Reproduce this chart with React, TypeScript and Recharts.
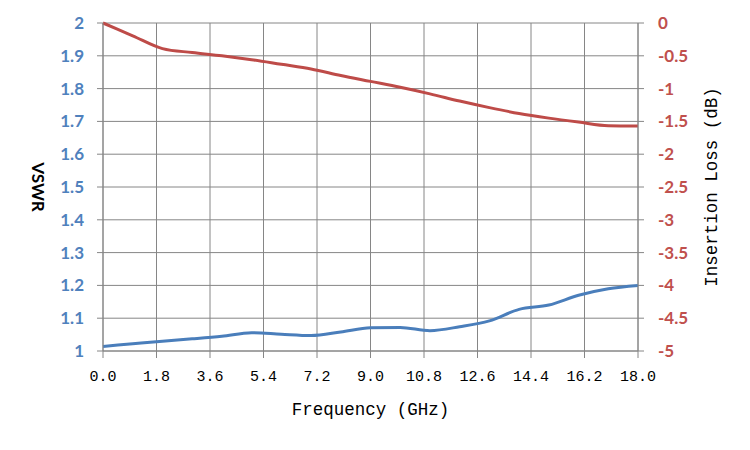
import React from 'react';

import { CartesianGrid, Label, Line, LineChart, XAxis, YAxis } from 'recharts';

const freq = [0, 1, 2, 3, 4, 5, 6, 7, 8, 9, 10, 11, 12, 13, 14, 15, 16, 17, 18];
const vswr = [1.014, 1.022, 1.03, 1.037, 1.045, 1.056, 1.051, 1.047, 1.058, 1.071, 1.072, 1.062, 1.074, 1.092, 1.127, 1.14, 1.17, 1.19, 1.2];
const loss = [0, -0.195, -0.39, -0.45, -0.5, -0.56, -0.63, -0.7, -0.8, -0.89, -0.98, -1.08, -1.19, -1.29, -1.38, -1.45, -1.51, -1.565, -1.57];

const freqTicks = [0, 1.8, 3.6, 5.4, 7.2, 9, 10.8, 12.6, 14.4, 16.2, 18];
const vswrTicks = [1, 1.1, 1.2, 1.3, 1.4, 1.5, 1.6, 1.7, 1.8, 1.9, 2];
const lossTicks = [-5, -4.5, -4, -3.5, -3, -2.5, -2, -1.5, -1, -0.5, 0];

const data = freq.map((f, i) => ({ freq: f, vswr: vswr[i], loss: loss[i] }));

const GRID = '#868686';
const BLUE = '#4A7EBB';
const RED = '#BE4B48';
const MONO = '"Liberation Mono", monospace';
const SANS = 'Lato, "Open Sans", sans-serif';

function App() {
  return (
    <div style={{ position: 'absolute', left: 0, top: 0 }}>
      <LineChart width={750} height={450} data={data} margin={{ top: 23, right: 42, bottom: 69, left: 43 }}>
        <CartesianGrid stroke={GRID} strokeWidth={1} yAxisId="left" />
        <XAxis
          dataKey="freq"
          type="number"
          domain={[0, 18]}
          ticks={freqTicks}
          tickFormatter={(v: number) => v.toFixed(1)}
          height={30}
          stroke={GRID}
          tickSize={7}
          tickMargin={12}
          tick={{ fill: '#000', fontFamily: MONO, fontSize: 15 }}
        >
          <Label value="Frequency (GHz)" position="bottom" offset={22} style={{ fill: '#000', fontFamily: MONO, fontSize: 17.5 }} />
        </XAxis>
        <YAxis
          yAxisId="left"
          domain={[1, 2]}
          ticks={vswrTicks}
          width={60}
          stroke={GRID}
          tickSize={6}
          tickMargin={13}
          tick={{ fill: '#4F81BD', fontFamily: SANS, fontWeight: 700, fontSize: 17 }}
        >
          <Label value="VSWR" angle={90} position="insideLeft" offset={-5} style={{ textAnchor: 'middle', fill: '#000', fontFamily: SANS, fontWeight: 700, fontSize: 17 }} />
        </YAxis>
        <YAxis
          yAxisId="right"
          orientation="right"
          domain={[-5, 0]}
          ticks={lossTicks}
          width={70}
          stroke={GRID}
          tickSize={6}
          tickMargin={14}
          tick={{ fill: '#C0504D', fontFamily: SANS, fontWeight: 700, fontSize: 17 }}
        >
          <Label value="Insertion Loss (dB)" angle={-90} position="insideRight" offset={-3} style={{ textAnchor: 'middle', fill: '#000', fontFamily: MONO, fontSize: 17.5 }} />
        </YAxis>
        <Line yAxisId="left" type="monotone" dataKey="vswr" stroke={BLUE} strokeWidth={3} dot={false} isAnimationActive={false} />
        <Line yAxisId="right" type="monotone" dataKey="loss" stroke={RED} strokeWidth={3} dot={false} isAnimationActive={false} />
      </LineChart>
    </div>
  );
}

export default App;
